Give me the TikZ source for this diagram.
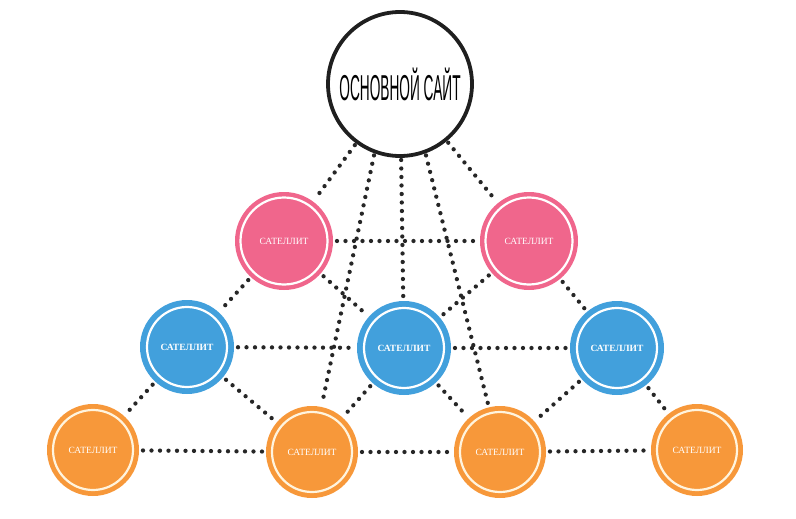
\documentclass[tikz,border=0pt]{standalone}
\usepackage{fontspec}
\setmainfont{Liberation Serif}
\newfontfamily\titlefont{Liberation Sans}
\usepackage{tikz}
\usetikzlibrary{positioning}

\definecolor{satpink}{RGB}{240,102,140}
\definecolor{satblue}{RGB}{66,160,220}
\definecolor{satorange}{RGB}{247,152,58}
\definecolor{ringcream}{RGB}{255,244,222}

\tikzset{
  dots/.style={line width=4.3pt, line cap=round, dash pattern=on 0pt off 8.5pt, black!85},
  sat/.style n args={4}{circle, inner sep=0pt, outer sep=4pt, minimum size=#2, fill=#1,
    text=white, font=\fontsize{9.5}{9.5}\selectfont,
    path picture={\draw[#4, line width=2.2pt] (path picture bounding box.center) circle (#3);}},
  pinksat/.style={sat={satpink}{98pt}{43.5pt}{white}},
  bluesat/.style={sat={satblue}{94pt}{40pt}{white}, font=\fontsize{9.5}{9.5}\selectfont\bfseries},
  orangesat/.style={sat={satorange}{92pt}{40pt}{ringcream}},
}

\begin{document}
\begin{tikzpicture}[x=1pt,y=-1pt]
        \useasboundingbox (0,0) rectangle (796,519);
        %
        \node [circle, draw=black!88, line width=3.8pt, minimum size=144pt, inner sep=0pt, outer sep=4pt] (site) at (400,84)
          {\scalebox{0.38}[1]{\titlefont\fontsize{36}{36}\selectfont ОСНОВНОЙ САЙТ}};
        %
        \node [pinksat] (p1) at (284,241) {САТЕЛЛИТ};
        \node [pinksat] (p2) at (529,241) {САТЕЛЛИТ};
        %
        \node [bluesat] (b1) at (187,347) {САТЕЛЛИТ};
        \node [bluesat] (b2) at (404,348) {САТЕЛЛИТ};
        \node [bluesat] (b3) at (617,348) {САТЕЛЛИТ};
        %
        \node [orangesat] (o1) at (93,450) {САТЕЛЛИТ};
        \node [orangesat] (o2) at (312,452) {САТЕЛЛИТ};
        \node [orangesat] (o3) at (500,452) {САТЕЛЛИТ};
        \node [orangesat] (o4) at (697,450) {САТЕЛЛИТ};
        %
        \draw [dots] (site) -- (p1);
        \draw [dots] (site) -- (p2);
        \draw [dots] (site) -- (b2);
        \draw [dots] (site.250) -- (o2);
        \draw [dots] (site.290) -- (o3);
        %
        \draw [dots] (p1) -- (p2);
        \draw [dots] (p1) -- (b1);
        \draw [dots] (p1) -- (b2);
        \draw [dots] (p2) -- (b2);
        \draw [dots] (p2) -- (b3);
        %
        \draw [dots] (b1) -- (b2);
        \draw [dots] (b2) -- (b3);
        \draw [dots] (b1) -- (o1);
        \draw [dots] (b1) -- (o2);
        \draw [dots] (b2) -- (o2);
        \draw [dots] (b2) -- (o3);
        \draw [dots] (b3) -- (o3);
        \draw [dots] (b3) -- (o4);
        %
        \draw [dots] (o1) -- (o2);
        \draw [dots] (o2) -- (o3);
        \draw [dots] (o3) -- (o4);
\end{tikzpicture}
\end{document}
